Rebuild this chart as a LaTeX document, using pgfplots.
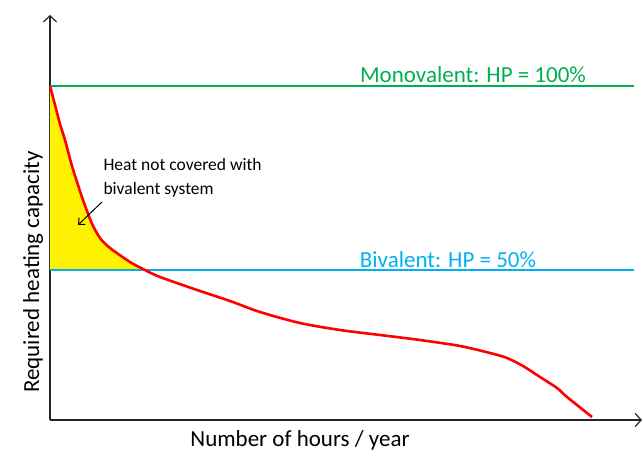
\documentclass[border=0pt]{standalone}
\usepackage{fontspec}
\setmainfont{Carlito}
\usepackage{pgfplots}
\pgfplotsset{compat=1.18}
\usetikzlibrary{arrows.meta}

\definecolor{monogreen}{HTML}{00B050}
\definecolor{biblue}{HTML}{00B0F0}

\begin{document}
\begin{tikzpicture}
\begin{axis}[
    x=1pt, y=1pt,
    xmin=0, xmax=592,
    ymin=0, ymax=405,
    axis lines=left,
    axis line style={line width=1.5pt, black!85, -{Straight Barb[length=6pt,width=13pt,line width=1.2pt]}},
    ticks=none,
    clip=false,
    font=\fontsize{23}{27}\selectfont,
    xlabel={Number of hours / year},
    ylabel={Required heating capacity},
    xlabel style={at={(axis cs:250,-20)}, anchor=center},
    ylabel style={at={(axis cs:-17,148)}, anchor=center},
]
% invisible frame to keep the page proportions
\path (axis cs:-50,-46) rectangle (axis cs:593,420);

% area not covered by the bivalent heat pump
\addplot[fill=yellow, draw=none] coordinates {
    (0,334) (5,315) (10,296) (15,280) (21.7,255) (28,235) (33,220)
    (41.7,197) (50,182) (60,172) (80,158) (94,150) (0,150)
} -- cycle;

% monovalent and bivalent levels
\addplot[monogreen, line width=1.2pt] coordinates {(0,334) (584,334)};
\addplot[biblue, line width=1.2pt] coordinates {(0,150) (584,150)};

% load duration curve
\addplot[red, line width=2.6pt, smooth, tension=0.5] coordinates {
    (0,334) (5,315) (10,296) (15,280) (21.7,255) (28,235) (33,220)
    (41.7,197) (50,182) (60,172) (80,158) (93,151) (110,143) (150,129)
    (180,119) (210,108) (250,97) (290,90) (330,85) (370,80) (410,74)
    (440,67) (457,62) (473,54) (490,43) (507,32) (517,23) (542,3)
};

\node[monogreen, anchor=center] at (axis cs:423,345) {Monovalent: HP = 100\%};
\node[biblue, anchor=center] at (axis cs:398,160) {Bivalent: HP = 50\%};
\node[anchor=west, align=left, font=\fontsize{17.5}{24}\selectfont]
    at (axis cs:50,242) {Heat not covered with\\bivalent system};
\draw[line width=1pt, -{Straight Barb[length=5pt,width=9pt]}]
    (axis cs:52,218) -- (axis cs:28,195);
\end{axis}
\end{tikzpicture}
\end{document}
